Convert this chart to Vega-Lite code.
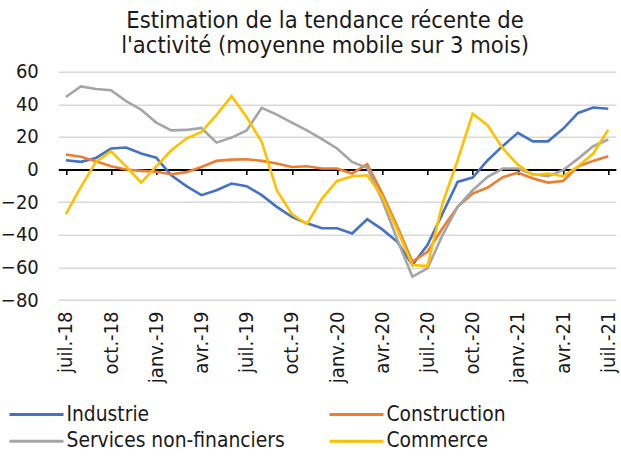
{
  "$schema": "https://vega.github.io/schema/vega-lite/v6.json",
  "width": 557.5,
  "height": 228.3,
  "autosize": "none",
  "padding": {"left": 58.3, "top": 71.7, "right": 5.2, "bottom": 157},
  "config": {
    "font": "DejaVu Sans Condensed",
    "view": {"stroke": null},
    "axis": {"labelColor": "#1a1a1a", "labelFontSize": 20, "title": null}
  },
  "title": {
    "text": ["Estimation de la tendance récente de", "l'activité (moyenne mobile sur 3 mois)"],
    "fontSize": 23.5,
    "fontWeight": "normal",
    "color": "#1a1a1a",
    "anchor": "middle",
    "frame": "group",
    "dx": -12,
    "offset": 4,
    "lineHeight": 25.5
  },
  "data": {
    "values": [
      {"mois": "juil.-18", "serie": "Industrie", "valeur": 5.7},
      {"mois": "août-18", "serie": "Industrie", "valeur": 4.7},
      {"mois": "sept.-18", "serie": "Industrie", "valeur": 7.1},
      {"mois": "oct.-18", "serie": "Industrie", "valeur": 12.9},
      {"mois": "nov.-18", "serie": "Industrie", "valeur": 13.5},
      {"mois": "déc.-18", "serie": "Industrie", "valeur": 9.8},
      {"mois": "janv.-19", "serie": "Industrie", "valeur": 7.3},
      {"mois": "févr.-19", "serie": "Industrie", "valeur": -3.5},
      {"mois": "mars-19", "serie": "Industrie", "valeur": -10.2},
      {"mois": "avr.-19", "serie": "Industrie", "valeur": -15.7},
      {"mois": "mai-19", "serie": "Industrie", "valeur": -12.7},
      {"mois": "juin-19", "serie": "Industrie", "valeur": -8.6},
      {"mois": "juil.-19", "serie": "Industrie", "valeur": -10.2},
      {"mois": "août-19", "serie": "Industrie", "valeur": -15.7},
      {"mois": "sept.-19", "serie": "Industrie", "valeur": -22.9},
      {"mois": "oct.-19", "serie": "Industrie", "valeur": -29},
      {"mois": "nov.-19", "serie": "Industrie", "valeur": -33},
      {"mois": "déc.-19", "serie": "Industrie", "valeur": -36},
      {"mois": "janv.-20", "serie": "Industrie", "valeur": -36},
      {"mois": "févr.-20", "serie": "Industrie", "valeur": -39.2},
      {"mois": "mars-20", "serie": "Industrie", "valeur": -30.5},
      {"mois": "avr.-20", "serie": "Industrie", "valeur": -36.7},
      {"mois": "mai-20", "serie": "Industrie", "valeur": -44.3},
      {"mois": "juin-20", "serie": "Industrie", "valeur": -58.5},
      {"mois": "juil.-20", "serie": "Industrie", "valeur": -46.3},
      {"mois": "août-20", "serie": "Industrie", "valeur": -27},
      {"mois": "sept.-20", "serie": "Industrie", "valeur": -7.6},
      {"mois": "oct.-20", "serie": "Industrie", "valeur": -4.9},
      {"mois": "nov.-20", "serie": "Industrie", "valeur": 5.7},
      {"mois": "déc.-20", "serie": "Industrie", "valeur": 14.5},
      {"mois": "janv.-21", "serie": "Industrie", "valeur": 22.5},
      {"mois": "févr.-21", "serie": "Industrie", "valeur": 17.3},
      {"mois": "mars-21", "serie": "Industrie", "valeur": 17.3},
      {"mois": "avr.-21", "serie": "Industrie", "valeur": 25},
      {"mois": "mai-21", "serie": "Industrie", "valeur": 34.7},
      {"mois": "juin-21", "serie": "Industrie", "valeur": 38},
      {"mois": "juil.-21", "serie": "Industrie", "valeur": 37.3},

      {"mois": "juil.-18", "serie": "Construction", "valeur": 9.2},
      {"mois": "août-18", "serie": "Construction", "valeur": 7.8},
      {"mois": "sept.-18", "serie": "Construction", "valeur": 5.1},
      {"mois": "oct.-18", "serie": "Construction", "valeur": 2},
      {"mois": "nov.-18", "serie": "Construction", "valeur": 0},
      {"mois": "déc.-18", "serie": "Construction", "valeur": -0.8},
      {"mois": "janv.-19", "serie": "Construction", "valeur": -1.4},
      {"mois": "févr.-19", "serie": "Construction", "valeur": -2.9},
      {"mois": "mars-19", "serie": "Construction", "valeur": -1.6},
      {"mois": "avr.-19", "serie": "Construction", "valeur": 1.6},
      {"mois": "mai-19", "serie": "Construction", "valeur": 5.3},
      {"mois": "juin-19", "serie": "Construction", "valeur": 6.1},
      {"mois": "juil.-19", "serie": "Construction", "valeur": 6.3},
      {"mois": "août-19", "serie": "Construction", "valeur": 5.3},
      {"mois": "sept.-19", "serie": "Construction", "valeur": 3.7},
      {"mois": "oct.-19", "serie": "Construction", "valeur": 1.6},
      {"mois": "nov.-19", "serie": "Construction", "valeur": 2},
      {"mois": "déc.-19", "serie": "Construction", "valeur": 0.6},
      {"mois": "janv.-20", "serie": "Construction", "valeur": 0.6},
      {"mois": "févr.-20", "serie": "Construction", "valeur": -2.4},
      {"mois": "mars-20", "serie": "Construction", "valeur": 3.3},
      {"mois": "avr.-20", "serie": "Construction", "valeur": -14.7},
      {"mois": "mai-20", "serie": "Construction", "valeur": -35},
      {"mois": "juin-20", "serie": "Construction", "valeur": -56.5},
      {"mois": "juil.-20", "serie": "Construction", "valeur": -50.4},
      {"mois": "août-20", "serie": "Construction", "valeur": -36},
      {"mois": "sept.-20", "serie": "Construction", "valeur": -22.9},
      {"mois": "oct.-20", "serie": "Construction", "valeur": -14.7},
      {"mois": "nov.-20", "serie": "Construction", "valeur": -11},
      {"mois": "déc.-20", "serie": "Construction", "valeur": -4.7},
      {"mois": "janv.-21", "serie": "Construction", "valeur": -1.9},
      {"mois": "févr.-21", "serie": "Construction", "valeur": -5.5},
      {"mois": "mars-21", "serie": "Construction", "valeur": -8},
      {"mois": "avr.-21", "serie": "Construction", "valeur": -7},
      {"mois": "mai-21", "serie": "Construction", "valeur": 2},
      {"mois": "juin-21", "serie": "Construction", "valeur": 5.3},
      {"mois": "juil.-21", "serie": "Construction", "valeur": 8.2},

      {"mois": "juil.-18", "serie": "Services non-financiers", "valeur": 44.5},
      {"mois": "août-18", "serie": "Services non-financiers", "valeur": 51},
      {"mois": "sept.-18", "serie": "Services non-financiers", "valeur": 49.4},
      {"mois": "oct.-18", "serie": "Services non-financiers", "valeur": 48.6},
      {"mois": "nov.-18", "serie": "Services non-financiers", "valeur": 42},
      {"mois": "déc.-18", "serie": "Services non-financiers", "valeur": 36.7},
      {"mois": "janv.-19", "serie": "Services non-financiers", "valeur": 28.8},
      {"mois": "févr.-19", "serie": "Services non-financiers", "valeur": 24},
      {"mois": "mars-19", "serie": "Services non-financiers", "valeur": 24.3},
      {"mois": "avr.-19", "serie": "Services non-financiers", "valeur": 25.5},
      {"mois": "mai-19", "serie": "Services non-financiers", "valeur": 16.5},
      {"mois": "juin-19", "serie": "Services non-financiers", "valeur": 19.6},
      {"mois": "juil.-19", "serie": "Services non-financiers", "valeur": 24},
      {"mois": "août-19", "serie": "Services non-financiers", "valeur": 37.8},
      {"mois": "sept.-19", "serie": "Services non-financiers", "valeur": 33.7},
      {"mois": "oct.-19", "serie": "Services non-financiers", "valeur": 28.8},
      {"mois": "nov.-19", "serie": "Services non-financiers", "valeur": 24},
      {"mois": "déc.-19", "serie": "Services non-financiers", "valeur": 18.6},
      {"mois": "janv.-20", "serie": "Services non-financiers", "valeur": 12.9},
      {"mois": "févr.-20", "serie": "Services non-financiers", "valeur": 4.7},
      {"mois": "mars-20", "serie": "Services non-financiers", "valeur": 1},
      {"mois": "avr.-20", "serie": "Services non-financiers", "valeur": -18.8},
      {"mois": "mai-20", "serie": "Services non-financiers", "valeur": -43},
      {"mois": "juin-20", "serie": "Services non-financiers", "valeur": -65.7},
      {"mois": "juil.-20", "serie": "Services non-financiers", "valeur": -60.6},
      {"mois": "août-20", "serie": "Services non-financiers", "valeur": -40.2},
      {"mois": "sept.-20", "serie": "Services non-financiers", "valeur": -22.9},
      {"mois": "oct.-20", "serie": "Services non-financiers", "valeur": -12.7},
      {"mois": "nov.-20", "serie": "Services non-financiers", "valeur": -4.5},
      {"mois": "déc.-20", "serie": "Services non-financiers", "valeur": 0.6},
      {"mois": "janv.-21", "serie": "Services non-financiers", "valeur": 0.6},
      {"mois": "févr.-21", "serie": "Services non-financiers", "valeur": -2.9},
      {"mois": "mars-21", "serie": "Services non-financiers", "valeur": -4.1},
      {"mois": "avr.-21", "serie": "Services non-financiers", "valeur": -0.4},
      {"mois": "mai-21", "serie": "Services non-financiers", "valeur": 6.7},
      {"mois": "juin-21", "serie": "Services non-financiers", "valeur": 14.3},
      {"mois": "juil.-21", "serie": "Services non-financiers", "valeur": 18.4},

      {"mois": "juil.-18", "serie": "Commerce", "valeur": -27.3},
      {"mois": "août-18", "serie": "Commerce", "valeur": -10.6},
      {"mois": "sept.-18", "serie": "Commerce", "valeur": 4.7},
      {"mois": "oct.-18", "serie": "Commerce", "valeur": 11.2},
      {"mois": "nov.-18", "serie": "Commerce", "valeur": 2},
      {"mois": "déc.-18", "serie": "Commerce", "valeur": -8},
      {"mois": "janv.-19", "serie": "Commerce", "valeur": 2},
      {"mois": "févr.-19", "serie": "Commerce", "valeur": 11.8},
      {"mois": "mars-19", "serie": "Commerce", "valeur": 19},
      {"mois": "avr.-19", "serie": "Commerce", "valeur": 23},
      {"mois": "mai-19", "serie": "Commerce", "valeur": 33.5},
      {"mois": "juin-19", "serie": "Commerce", "valeur": 45},
      {"mois": "juil.-19", "serie": "Commerce", "valeur": 32.2},
      {"mois": "août-19", "serie": "Commerce", "valeur": 17},
      {"mois": "sept.-19", "serie": "Commerce", "valeur": -12.7},
      {"mois": "oct.-19", "serie": "Commerce", "valeur": -27.3},
      {"mois": "nov.-19", "serie": "Commerce", "valeur": -33.5},
      {"mois": "déc.-19", "serie": "Commerce", "valeur": -17.8},
      {"mois": "janv.-20", "serie": "Commerce", "valeur": -7},
      {"mois": "févr.-20", "serie": "Commerce", "valeur": -4.1},
      {"mois": "mars-20", "serie": "Commerce", "valeur": -3.5},
      {"mois": "avr.-20", "serie": "Commerce", "valeur": -16.7},
      {"mois": "mai-20", "serie": "Commerce", "valeur": -37},
      {"mois": "juin-20", "serie": "Commerce", "valeur": -58.6},
      {"mois": "juil.-20", "serie": "Commerce", "valeur": -59.2},
      {"mois": "août-20", "serie": "Commerce", "valeur": -20.8},
      {"mois": "sept.-20", "serie": "Commerce", "valeur": 5.7},
      {"mois": "oct.-20", "serie": "Commerce", "valeur": 34.3},
      {"mois": "nov.-20", "serie": "Commerce", "valeur": 27},
      {"mois": "déc.-20", "serie": "Commerce", "valeur": 12.9},
      {"mois": "janv.-21", "serie": "Commerce", "valeur": 3},
      {"mois": "févr.-21", "serie": "Commerce", "valeur": -3.5},
      {"mois": "mars-21", "serie": "Commerce", "valeur": -2.4},
      {"mois": "avr.-21", "serie": "Commerce", "valeur": -4.1},
      {"mois": "mai-21", "serie": "Commerce", "valeur": 2},
      {"mois": "juin-21", "serie": "Commerce", "valeur": 9.8},
      {"mois": "juil.-21", "serie": "Commerce", "valeur": 24.5}
    ]
  },
  "resolve": {"axis": {"x": "independent"}},
  "layer": [
    {
      "mark": {"type": "point", "opacity": 0},
      "encoding": {
        "x": {
          "field": "mois",
          "type": "ordinal",
          "sort": null,
          "scale": {"paddingInner": 0, "paddingOuter": 0},
          "axis": {
            "orient": "bottom",
            "offset": -130.46,
            "bandPosition": 0,
            "labels": false,
            "grid": false,
            "domain": true,
            "domainColor": "#000000",
            "domainWidth": 2,
            "ticks": true,
            "tickColor": "#000000",
            "tickWidth": 1.6,
            "tickSize": 5,
            "values": ["juil.-18", "oct.-18", "janv.-19", "avr.-19", "juil.-19", "oct.-19", "janv.-20", "avr.-20", "juil.-20", "oct.-20", "janv.-21", "avr.-21", "juil.-21"]
          }
        }
      }
    },
    {
      "mark": {"type": "line", "strokeWidth": 2.6},
      "encoding": {
        "x": {
          "field": "mois",
          "type": "ordinal",
          "sort": null,
          "axis": {
            "orient": "bottom",
            "domain": false,
            "ticks": false,
            "grid": false,
            "labelAngle": -90,
            "labelPadding": 11,
            "labelFontSize": 20,
            "values": ["juil.-18", "oct.-18", "janv.-19", "avr.-19", "juil.-19", "oct.-19", "janv.-20", "avr.-20", "juil.-20", "oct.-20", "janv.-21", "avr.-21", "juil.-21"]
          }
        },
        "y": {
          "field": "valeur",
          "type": "quantitative",
          "scale": {"domain": [-80, 60], "nice": false, "zero": false},
          "axis": {
            "values": [-80, -60, -40, -20, 0, 20, 40, 60],
            "domain": false,
            "ticks": false,
            "grid": true,
            "gridColor": {"condition": {"test": "datum.value === 0", "value": "transparent"}, "value": "#d9d9d9"},
            "gridWidth": 1.5,
            "labelPadding": 20,
            "labelFontSize": 20
          }
        },
        "color": {
          "field": "serie",
          "type": "nominal",
          "scale": {
            "domain": ["Industrie", "Construction", "Services non-financiers", "Commerce"],
            "range": ["#4472C4", "#ED7D31", "#A5A5A5", "#FFC000"]
          },
          "legend": {
            "orient": "none",
            "legendX": -33.3,
            "legendY": 331,
            "direction": "horizontal",
            "columns": 2,
            "title": null,
            "padding": 0,
            "symbolType": "M-2.7,0H2.7",
            "symbolSize": 400,
            "symbolStrokeWidth": 3,
            "labelFontSize": 20.8,
            "labelColor": "#1a1a1a",
            "labelOffset": 18.5,
            "labelLimit": 400,
            "rowPadding": 5,
            "columnPadding": 38
          }
        }
      }
    }
  ]
}
